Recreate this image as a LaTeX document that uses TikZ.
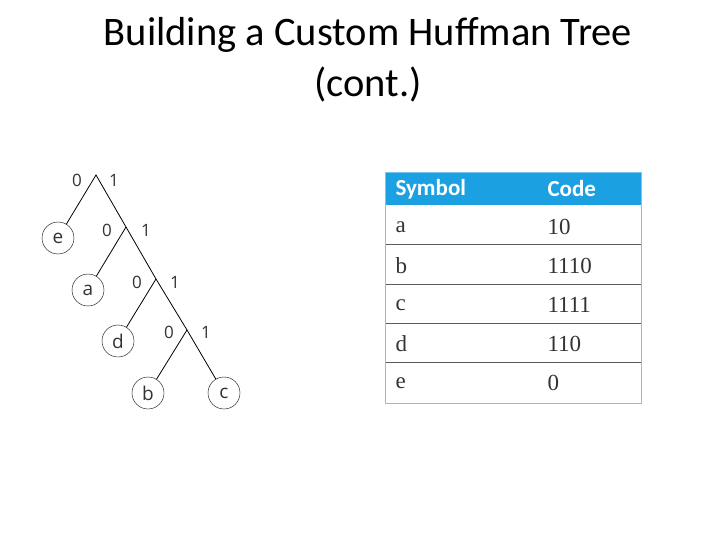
\documentclass[tikz,border=0pt]{standalone}
\usepackage{fontspec}
\setmainfont{Carlito}
\newfontfamily\serifx{Liberation Serif}
\newfontfamily\sansx{Open Sans}
\definecolor{hblue}{RGB}{27,160,226}
\begin{document}
\begin{tikzpicture}[x=1pt,y=-1pt,
  leaf/.style={circle,draw,thin,minimum size=32pt,inner sep=0pt,font=\sansx\fontsize{19}{19}\selectfont,text=black!80},
  lbl/.style={font=\sansx\fontsize{17}{17}\selectfont,text=black!80},
  edge/.style={draw,line width=0.8pt},
  cell/.style={anchor=west,font=\serifx\fontsize{23}{23}\selectfont,text=black!80},
  head/.style={anchor=west,font=\fontsize{23}{23}\selectfont\bfseries,text=white},
  title/.style={font=\fontsize{40.5}{40.5}\selectfont}]
\useasboundingbox (0,0) rectangle (720,540);
\node[title] (t1) at (368,35) {Building a Custom Huffman Tree};
\node[title] (t2) at (368,84) {(cont.)};
% tree
\coordinate (r) at (96,175);
\coordinate (n2) at (126,227);
\coordinate (n3) at (156,279);
\coordinate (n4) at (187,330);
\node[leaf] (e) at (58,238) {e};
\node[leaf] (a) at (88,290) {a};
\node[leaf] (d) at (118,341) {d};
\node[leaf] (b) at (148,393) {b};
\node[leaf] (c) at (224,393) {c};
\draw[edge] (e) -- (r) -- (n2) -- (n3) -- (n4) -- (c);
\draw[edge] (n2) -- (a);
\draw[edge] (n3) -- (d);
\draw[edge] (n4) -- (b);
\node[lbl] (r0) at (77,180) {0};
\node[lbl] (r1) at (114,180) {1};
\node[lbl] (a0) at (107,230) {0};
\node[lbl] (a1) at (146,230) {1};
\node[lbl] (b0) at (137,282) {0};
\node[lbl] (b1) at (175,282) {1};
\node[lbl] (c0) at (169,332) {0};
\node[lbl] (c1) at (206,332) {1};
% table
\fill[hblue] (385,173) rectangle (641,205);
\foreach \y in {244,284,323,362}{\draw[black!65,line width=0.8pt] (385,\y) -- (641,\y);}
\draw[hblue!60,line width=1pt] (385,173) rectangle (641,403);
\node[head] (hs) at (392,189) {Symbol};
\node[head] (hc) at (544,189) {Code};
\node[cell] (sa) at (392,227) {a};   \node[cell] (ca) at (544,227) {10};
\node[cell] (sb) at (392,266) {b};   \node[cell] (cb) at (544,266) {1110};
\node[cell] (sc) at (392,305) {c};   \node[cell] (cc) at (544,305) {1111};
\node[cell] (sd) at (392,344) {d};   \node[cell] (cd) at (544,344) {110};
\node[cell] (se) at (392,383) {e};   \node[cell] (ce) at (544,383) {0};
\end{tikzpicture}
\end{document}
